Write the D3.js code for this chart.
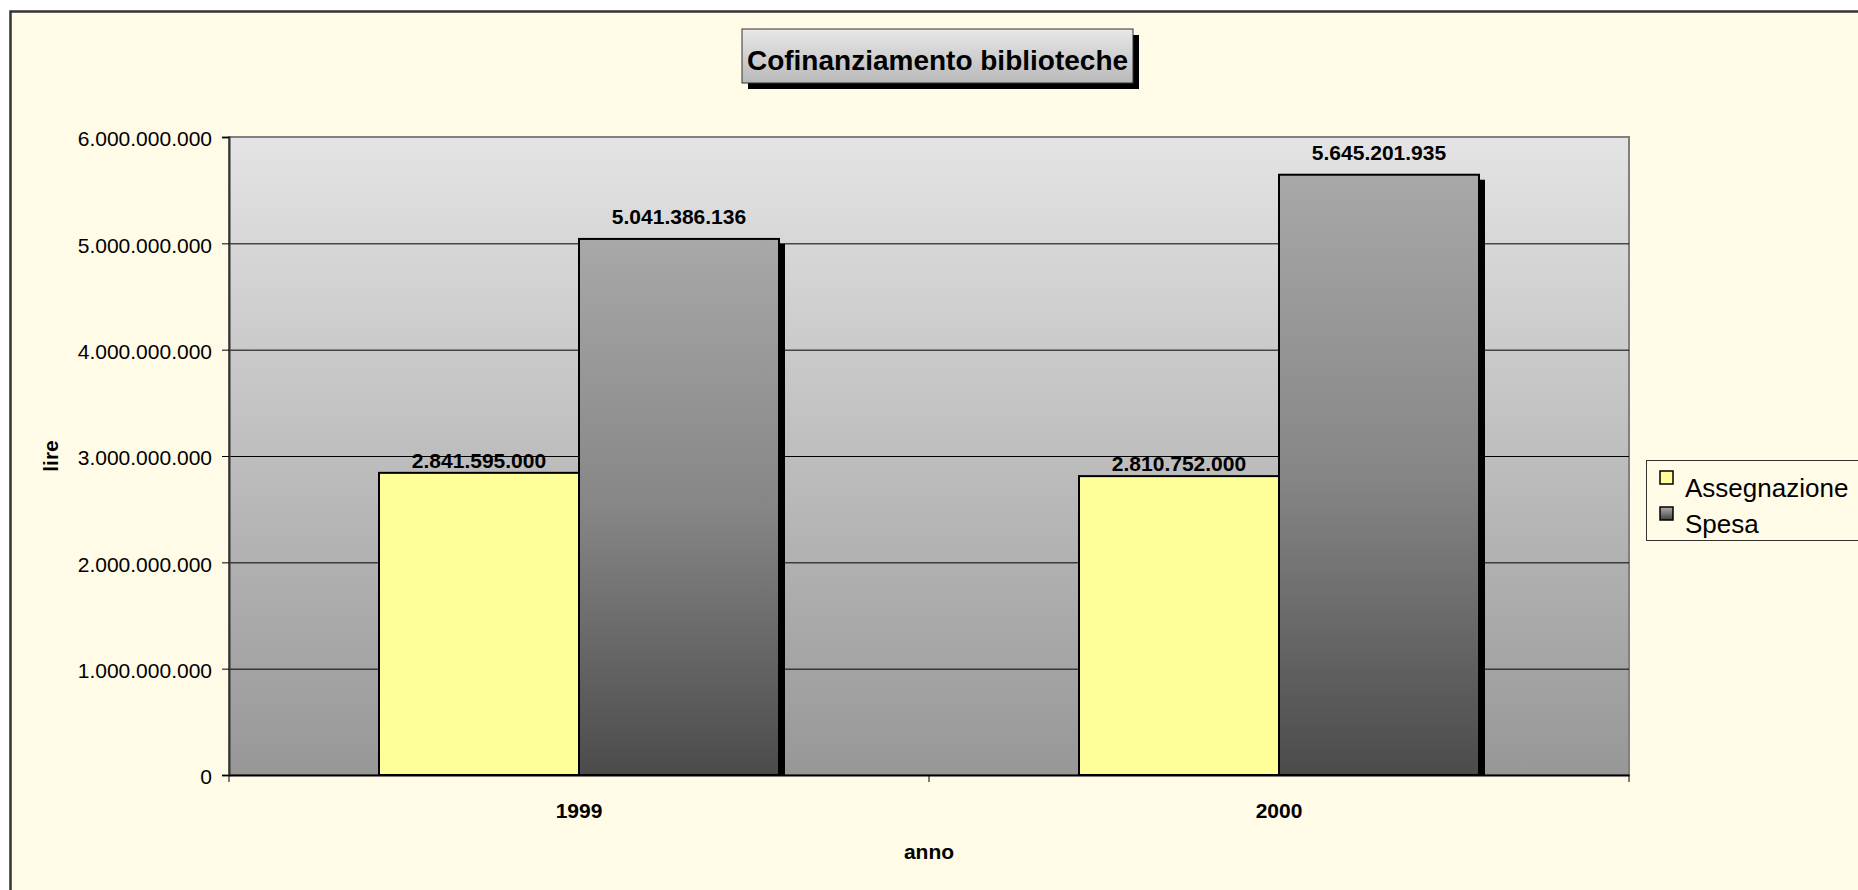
<!DOCTYPE html>
<html>
<head>
<meta charset="utf-8">
<script src="https://cdn.jsdelivr.net/npm/d3@7"></script>
<style>
  body { margin: 0; background: #ffffff; }
  text { font-family: Arial, "Liberation Sans", sans-serif; fill: #000; }
</style>
</head>
<body>
<script>
// data
var years = ["1999", "2000"];
var series = ["Assegnazione", "Spesa"];
var assegnazione = [2841595000, 2810752000];
var spesa = [5041386136, 5645201935];
var yTicks = [0, 1e9, 2e9, 3e9, 4e9, 5e9, 6e9];

var W = 1858, H = 890;
var plot = {left: 229, right: 1629, top: 137, bottom: 775};

var it = d3.formatLocale({decimal: ",", thousands: ".", grouping: [3], currency: ["", "€"]});
var fmt = it.format(",d");

var rows = years.map(function(y, i) {
	return {year: y, values: [
		{key: series[0], value: assegnazione[i]},
		{key: series[1], value: spesa[i]}
	]};
});

var svg = d3.select("body").append("svg")
	.attr("width", W)
	.attr("height", H);

var defs = svg.append("defs");

function vGrad(id, stops) {
	var g = defs.append("linearGradient").attr("id", id)
		.attr("x1", 0).attr("y1", 0).attr("x2", 0).attr("y2", 1);
	stops.forEach(function(s) {
		g.append("stop").attr("offset", s[0]).attr("stop-color", s[1]);
	});
}
vGrad("plotBg", [[0, "#e4e4e4"], [1, "#979797"]]);
vGrad("grayBar", [[0, "#a8a8a8"], [0.5, "#868686"], [1, "#4b4b4b"]]);
vGrad("titleBg", [[0, "#e8e8e8"], [1, "#b9b9b9"]]);
vGrad("legendGray", [[0, "#b0b0b0"], [1, "#404040"]]);

// chart area
svg.append("rect")
	.attr("x", 10.5).attr("y", 11.5)
	.attr("width", W + 20).attr("height", H + 20)
	.attr("fill", "#fffbe7")
	.attr("stroke", "#333").attr("stroke-width", 2.5);

var x0 = d3.scaleBand().domain(years).range([plot.left, plot.right]);
var bw = x0.bandwidth();
var x1 = d3.scaleBand().domain(series).range([bw * 150 / 700, bw * 550 / 700]);
var y = d3.scaleLinear().domain([0, 6e9]).range([plot.bottom, plot.top]);

// plot area
svg.append("rect")
	.attr("x", plot.left).attr("y", plot.top)
	.attr("width", plot.right - plot.left).attr("height", plot.bottom - plot.top)
	.attr("fill", "url(#plotBg)")
	.attr("stroke", "#808080").attr("stroke-width", 2);

// gridlines
svg.append("g").selectAll("line")
	.data(yTicks.slice(1, -1))
	.enter().append("line")
		.attr("x1", plot.left).attr("x2", plot.right)
		.attr("y1", function(d) { return y(d) + 0.5; })
		.attr("y2", function(d) { return y(d) + 0.5; })
		.attr("stroke", "#000").attr("stroke-width", 1);

var colors = {Assegnazione: "#ffff99", Spesa: "url(#grayBar)"};

var groups = svg.append("g").selectAll("g")
	.data(rows)
	.enter().append("g")
		.attr("transform", function(d) { return "translate(" + x0(d.year) + ",0)"; });

// shadows
groups.selectAll(".shadow")
	.data(function(d) { return d.values; })
	.enter().append("rect")
		.attr("class", "shadow")
		.attr("x", function(d) { return x1(d.key) + 6; })
		.attr("y", function(d) { return y(d.value) + 5; })
		.attr("width", x1.bandwidth())
		.attr("height", function(d) { return plot.bottom - y(d.value) - 5; })
		.attr("fill", "#000");

groups.selectAll(".bar")
	.data(function(d) { return d.values; })
	.enter().append("rect")
		.attr("class", "bar")
		.attr("x", function(d) { return x1(d.key); })
		.attr("y", function(d) { return y(d.value); })
		.attr("width", x1.bandwidth())
		.attr("height", function(d) { return plot.bottom - y(d.value); })
		.attr("fill", function(d) { return colors[d.key]; })
		.attr("stroke", "#000").attr("stroke-width", 2);

// value labels
groups.selectAll(".val")
	.data(function(d) { return d.values; })
	.enter().append("text")
		.attr("class", "val")
		.attr("x", function(d) { return x1(d.key) + x1.bandwidth() / 2; })
		.attr("y", function(d) { return y(d.value) - (d.key === "Spesa" ? 15 : 5); })
		.attr("text-anchor", "middle")
		.style("font-size", "21px").style("font-weight", "bold")
		.text(function(d) { return fmt(d.value); });

// y axis
var yAxis = d3.axisLeft(y).tickValues(yTicks).tickSize(7).tickPadding(10).tickFormat(fmt);
var gY = svg.append("g")
	.attr("transform", "translate(" + plot.left + ",0)")
	.call(yAxis);
gY.select(".domain").attr("stroke", "#333").attr("stroke-width", 2);
gY.selectAll(".tick line").attr("stroke", "#000");
gY.selectAll(".tick text")
	.attr("dy", "0.42em")
	.style("font-size", "21px");

// x axis: labels at band centres, ticks on band edges
var xAxis = d3.axisBottom(x0).tickSize(0).tickPadding(0);
var gX = svg.append("g")
	.attr("transform", "translate(0," + plot.bottom + ")")
	.call(xAxis);
gX.select(".domain").attr("stroke", "#000").attr("stroke-width", 2);
gX.selectAll(".tick text")
	.attr("y", 43).attr("dy", null)
	.style("font-size", "21px").style("font-weight", "bold");
gX.selectAll(".edge")
	.data(years.map(function(d) { return x0(d); }).concat([x0(years[years.length - 1]) + bw]))
	.enter().append("line")
		.attr("class", "edge")
		.attr("x1", function(d) { return d; }).attr("x2", function(d) { return d; })
		.attr("y1", 0).attr("y2", 7)
		.attr("stroke", "#000");

// axis titles
svg.append("text")
	.attr("x", (plot.left + plot.right) / 2)
	.attr("y", 859)
	.attr("text-anchor", "middle")
	.style("font-size", "21px").style("font-weight", "bold")
	.text("anno");
svg.append("text")
	.attr("transform", "rotate(-90)")
	.attr("x", -(plot.top + plot.bottom) / 2)
	.attr("y", 58)
	.attr("text-anchor", "middle")
	.style("font-size", "21px").style("font-weight", "bold")
	.text("lire");

// title box
var tb = {x: 742, y: 29, w: 391, h: 54};
svg.append("rect")
	.attr("x", tb.x + 6).attr("y", tb.y + 6)
	.attr("width", tb.w).attr("height", tb.h)
	.attr("fill", "#000");
svg.append("rect")
	.attr("x", tb.x).attr("y", tb.y)
	.attr("width", tb.w).attr("height", tb.h)
	.attr("fill", "url(#titleBg)")
	.attr("stroke", "#333").attr("stroke-width", 1);
svg.append("text")
	.attr("x", tb.x + tb.w / 2)
	.attr("y", 70)
	.attr("text-anchor", "middle")
	.style("font-size", "28px").style("font-weight", "bold")
	.text("Cofinanziamento biblioteche");

// legend
var legend = svg.append("g");
legend.append("rect")
	.attr("x", 1646.5).attr("y", 460.5)
	.attr("width", 300).attr("height", 80)
	.attr("fill", "#fffbe7")
	.attr("stroke", "#333").attr("stroke-width", 1);
var legendFill = {Assegnazione: "#ffff99", Spesa: "url(#legendGray)"};
var items = legend.selectAll(".item")
	.data(series)
	.enter().append("g")
		.attr("class", "item")
		.attr("transform", function(d, i) { return "translate(1660," + (471 + i * 36) + ")"; });
items.append("rect")
	.attr("width", 13).attr("height", 13)
	.attr("fill", function(d) { return legendFill[d]; })
	.attr("stroke", "#000").attr("stroke-width", 1.5);
items.append("text")
	.attr("x", 25).attr("y", 26)
	.style("font-size", "26px")
	.text(function(d) { return d; });
</script>
</body>
</html>
